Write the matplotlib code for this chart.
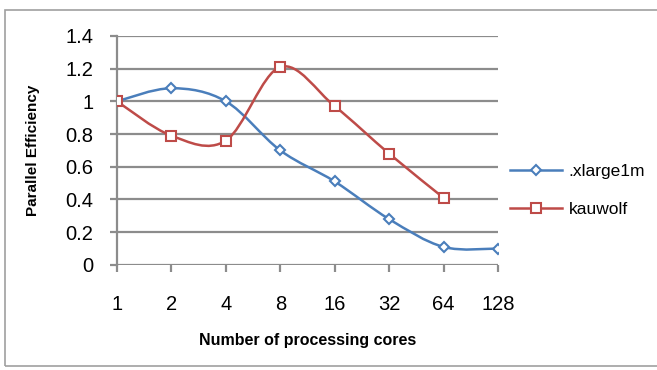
import matplotlib
matplotlib.use("Agg")
import matplotlib.pyplot as plt
from matplotlib.path import Path
from matplotlib.patches import PathPatch, Rectangle
from matplotlib.lines import Line2D

plt.rcParams["font.family"] = ["Liberation Sans", "DejaVu Sans"]

cores = ["1", "2", "4", "8", "16", "32", "64", "128"]
xlarge = [1.0, 1.08, 1.0, 0.70, 0.51, 0.28, 0.11, 0.10]
kauwolf = [1.0, 0.79, 0.76, 1.21, 0.97, 0.68, 0.41]

BLUE = "#4A7EBB"
RED = "#BE4B48"
GRID = "#8C8C8C"


def smooth_path(xs, ys):
    """Excel-style smoothed line: Bezier segments through every point."""
    pts = list(zip(xs, ys))
    n = len(pts)
    verts = [pts[0]]
    codes = [Path.MOVETO]
    for i in range(n - 1):
        p0 = pts[max(i - 1, 0)]
        p1 = pts[i]
        p2 = pts[i + 1]
        p3 = pts[min(i + 2, n - 1)]
        c1 = (p1[0] + (p2[0] - p0[0]) / 6, p1[1] + (p2[1] - p0[1]) / 6)
        c2 = (p2[0] - (p3[0] - p1[0]) / 6, p2[1] - (p3[1] - p1[1]) / 6)
        verts += [c1, c2, p2]
        codes += [Path.CURVE4] * 3
    return Path(verts, codes)


fig = plt.figure(figsize=(6.57, 3.70), dpi=100)
fig.patches.append(Rectangle((0.008, 0.01), 1.1, 0.962, transform=fig.transFigure,
                             fill=False, edgecolor="#A0A0A0", linewidth=1.2))
ax = fig.add_axes([0.178, 0.284, 0.580, 0.619])

for series, color, marker, ms in [(xlarge, BLUE, "D", 5.5), (kauwolf, RED, "s", 7.5)]:
    xs = list(range(len(series)))
    ax.add_patch(PathPatch(smooth_path(xs, series), facecolor="none",
                           edgecolor=color, linewidth=1.8, zorder=3))
    ax.plot(xs, series, linestyle="none", marker=marker, markersize=ms,
            markerfacecolor="white", markeredgecolor=color,
            markeredgewidth=1.5, zorder=4)

ax.set_xlim(0, len(cores) - 1)
ax.set_ylim(0, 1.4)
ax.set_yticks([0, 0.2, 0.4, 0.6, 0.8, 1.0, 1.2, 1.4])
ax.set_yticklabels(["0", "0.2", "0.4", "0.6", "0.8", "1", "1.2", "1.4"])
ax.set_xticks(range(len(cores)))
ax.set_xticklabels(cores)
ax.grid(axis="y", color=GRID, linewidth=1.6)
ax.set_axisbelow(True)
for side in ["top", "right", "bottom"]:
    ax.spines[side].set_visible(False)
ax.spines["left"].set_color(GRID)
ax.spines["left"].set_linewidth(1.6)
ax.tick_params(axis="y", length=5, width=1.6, color=GRID, labelsize=14.5, pad=12)
ax.tick_params(axis="x", length=5, width=1.6, color=GRID, labelsize=14.5, pad=17)
ax.set_ylabel("Parallel Efficiency", fontsize=11, fontweight="bold", labelpad=18)
ax.set_xlabel("Number of processing cores", fontsize=11.5, fontweight="bold", labelpad=13)

handles = [
    Line2D([], [], color=BLUE, linewidth=1.8, marker="D", markersize=5.5,
           markerfacecolor="white", markeredgecolor=BLUE, markeredgewidth=1.5),
    Line2D([], [], color=RED, linewidth=1.8, marker="s", markersize=7.5,
           markerfacecolor="white", markeredgecolor=RED, markeredgewidth=1.5),
]
fig.legend(handles, [".xlarge1m", "kauwolf"], loc="center left",
           bbox_to_anchor=(0.752, 0.485), frameon=False, fontsize=12.5,
           handlelength=3.0, labelspacing=1.3, handletextpad=0.4)

fig.savefig("out.png", dpi=100)
